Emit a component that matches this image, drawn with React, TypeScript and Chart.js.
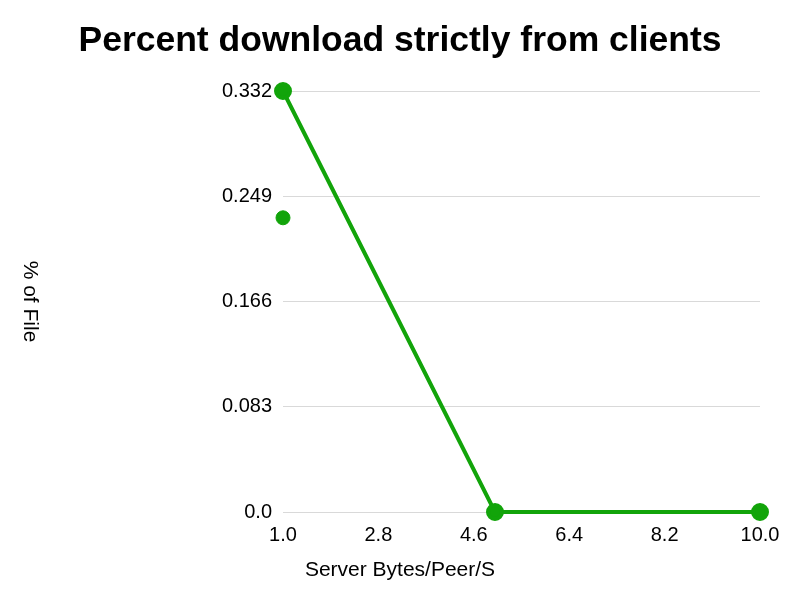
import React, { useEffect, useRef } from "react";
import { Chart, registerables } from "chart.js";

Chart.register(...registerables);

const lineX = [1.0, 5.0, 10.0];
const lineY = [0.332, 0.0, 0.0];
const loneX = [1.0];
const loneY = [0.232];
const yTicks = [0, 0.083, 0.166, 0.249, 0.332];
const xTicks = [1.0, 2.8, 4.6, 6.4, 8.2, 10.0];

const TITLE = "Percent download strictly from clients";
const X_TITLE = "Server Bytes/Peer/S";
const Y_TITLE = "% of File";
const GREEN = "#12a40a";
const FONT = "'Liberation Sans', Arial, sans-serif";

export default function App() {
  const ref = useRef<HTMLCanvasElement | null>(null);
  useEffect(() => {
    document.body.style.margin = "0";
    const ctx = ref.current!;
    const titlesPlugin = {
      id: "titles",
      afterDraw(chart: any) {
        const c = chart.ctx;
        c.save();
        c.fillStyle = "#000";
        c.textAlign = "center";
        c.textBaseline = "middle";
        c.font = `bold 35.5px ${FONT}`;
        c.fillText(TITLE, chart.width / 2, 41);
        c.font = `21px ${FONT}`;
        c.fillText(X_TITLE, chart.width / 2, 570);
        const ca = chart.chartArea;
        c.translate(30, (ca.top + ca.bottom) / 2);
        c.rotate(Math.PI / 2);
        c.fillText(Y_TITLE, 0, 0);
        c.restore();
      },
    };
    const chart = new Chart(ctx, {
      type: "scatter",
      data: {
        datasets: [
          {
            data: lineX.map((x, i) => ({ x, y: lineY[i] })),
            showLine: true,
            borderColor: GREEN,
            backgroundColor: GREEN,
            borderWidth: 4,
            pointRadius: 7,
            pointHoverRadius: 7,
            clip: false as any,
          },
          {
            data: loneX.map((x, i) => ({ x, y: loneY[i] })),
            showLine: false,
            borderColor: GREEN,
            backgroundColor: GREEN,
            pointRadius: 7,
            pointHoverRadius: 7,
            clip: false as any,
          },
        ],
      },
      options: {
        animation: false,
        responsive: false,
        layout: { padding: { left: 0, right: 40, top: 91, bottom: 0 } },
        plugins: {
          legend: { display: false },
          tooltip: { enabled: false },
          title: { display: false },
        },
        scales: {
          x: {
            type: "linear",
            min: 1,
            max: 10,
            afterBuildTicks: (s: any) => {
              s.ticks = xTicks.map((v) => ({ value: v }));
            },
            afterFit: (s: any) => {
              s.height = 600 - 512;
            },
            grid: { display: false, drawTicks: false },
            border: { display: false },
            ticks: {
              color: "#000",
              font: { family: FONT, size: 20 },
              padding: 11,
              maxRotation: 0,
              callback: (v: any) => Number(v).toFixed(1),
            },
          },
          y: {
            type: "linear",
            min: 0,
            max: 0.332,
            afterBuildTicks: (s: any) => {
              s.ticks = yTicks.map((v) => ({ value: v }));
            },
            afterFit: (s: any) => {
              s.width = 283;
            },
            grid: { color: "#d9d9d9", drawTicks: false },
            border: { display: false },
            ticks: {
              color: "#000",
              font: { family: FONT, size: 20 },
              padding: 11,
              callback: (v: any) => (v === 0 ? "0.0" : String(v)),
            },
          },
        },
      },
      plugins: [titlesPlugin],
    } as any);
    return () => chart.destroy();
  }, []);
  return (
    <div style={{ width: 800, height: 600 }}>
      <canvas ref={ref} width={800} height={600} style={{ display: "block" }} />
    </div>
  );
}
